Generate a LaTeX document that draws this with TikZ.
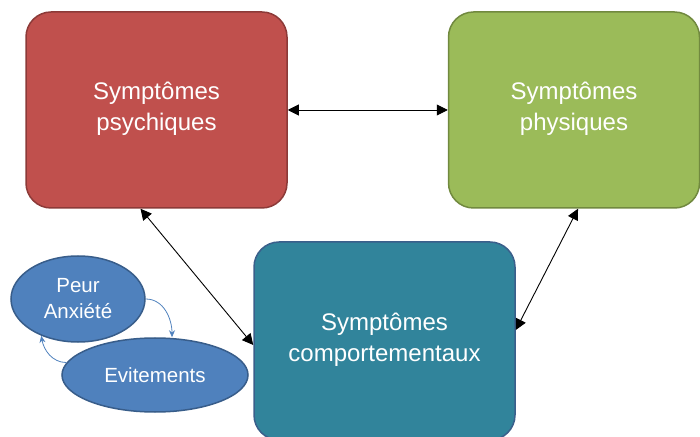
\documentclass[tikz,border=0pt]{standalone}
\usepackage{fontspec}
\setmainfont{Liberation Sans}
\usetikzlibrary{shapes.geometric, arrows.meta, positioning}
\definecolor{psyred}{HTML}{C0504D}
\definecolor{psyredline}{HTML}{8C3A38}
\definecolor{physgreen}{HTML}{9BBB59}
\definecolor{physgreenline}{HTML}{71893F}
\definecolor{compteal}{HTML}{31849B}
\definecolor{comptealline}{HTML}{3A5F8B}
\definecolor{ovalblue}{HTML}{4F81BD}
\definecolor{ovalblueline}{HTML}{385D8A}

\begin{document}
\begin{tikzpicture}[x=1pt, y=1pt,
  symbox/.style={rectangle, rounded corners=25pt, line width=1.5pt, text=white, align=center,
    minimum height=196pt, inner sep=0pt, text depth=8pt, font=\fontsize{24}{31}\selectfont},
  oval/.style={ellipse, draw=ovalblueline, fill=ovalblue, line width=1.5pt, text=white, align=center,
    inner sep=0pt, font=\fontsize{20.5}{26}\selectfont},
  link/.style={black, line width=0.9pt, {Triangle[length=11pt,width=11pt]}-{Triangle[length=11pt,width=11pt]}},
  loop/.style={ovalblue, line width=0.8pt, -{Stealth[length=7pt,width=6pt]}}]
  \useasboundingbox (0,0) rectangle (700,436);
  \clip (0,0) rectangle (700,436);

  \node[symbox, draw=psyredline, fill=psyred, minimum width=261pt] (psy) at (156.5,326) {Symptômes\\psychiques};
  \node[symbox, draw=physgreenline, fill=physgreen, minimum width=251pt] (phys) at (574,326) {Symptômes\\physiques};
  \node[symbox, draw=comptealline, fill=compteal, minimum width=261pt, minimum height=198pt] (comp) at (384.5,95) {Symptômes\\comportementaux};

  \node[oval, minimum width=134pt, minimum height=86pt] (peur) at (78,137) {Peur\\Anxiété};
  \node[oval, minimum width=186pt, minimum height=74pt] (evit) at (155,61) {Evitements};

  \draw[link] (psy.east) -- (phys.west);
  \draw[link] ([xshift=-16pt]psy.south) -- ([yshift=-4pt]comp.west);
  \draw[link] ([xshift=4pt]phys.south) -- ([yshift=11pt]comp.east);

  \draw[loop] (peur.east) to[out=0, in=90] ([xshift=17pt]evit.north);
  \draw[loop] (evit.172) to[out=180, in=-80] (peur.225);
\end{tikzpicture}
\end{document}
